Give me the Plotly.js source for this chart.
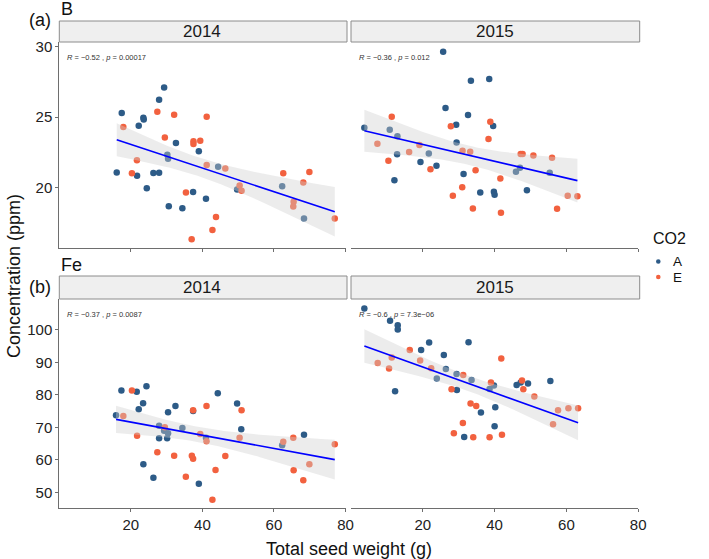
<!DOCTYPE html>
<html>
<head>
<meta charset="utf-8">
<script src="https://cdn.plot.ly/plotly-3.0.1.min.js"></script>
<style>html,body{margin:0;padding:0;background:#fff;}</style>
</head>
<body>
<div id="chart" style="width:709px;height:559px;"></div>
<script>
// ---------- DATA ----------
// Panel (a) B, 2014
const b2014_A_x = [16.05,17.45,21.74,22.2,23.5,23.6,24.45,26.3,27.9,27.9,29.3,30.2,30.4,30.6,32.6,34.4,37.4,39.0,41.0,44.4,49.7,62.3,68.4];
const b2014_A_y = [21.07,25.28,20.83,24.38,24.95,24.83,19.95,21.02,21.04,26.23,27.09,22.32,22.04,18.67,23.15,18.53,19.67,22.58,19.19,21.47,19.86,20.09,17.80];
const b2014_E_x = [17.9,20.3,21.7,27.4,29.5,32.1,35.4,37.0,37.5,37.5,39.4,41.2,41.2,42.8,43.8,46.4,50.4,50.95,62.6,65.5,65.4,68.2,69.9,77.0];
const b2014_E_y = [24.29,21.0,21.94,25.38,23.55,25.17,19.64,16.33,23.29,23.08,23.32,25.02,21.59,16.97,17.91,21.35,20.14,19.76,21.0,18.98,18.65,20.36,21.09,17.80];
// Panel (a) B, 2015
const b2015_A_x = [3.72,10.79,12.09,12.84,12.93,19.35,21.67,23.81,25.67,26.33,29.3,29.4,31.35,32.6,33.4,36.0,38.5,39.6,39.8,40.0,45.95,47.07,49.0,55.35];
const b2015_A_y = [24.24,24.10,20.52,22.35,23.63,21.80,22.42,21.54,29.64,25.64,24.45,23.2,20.95,25.14,27.58,19.64,27.70,24.36,19.69,19.48,21.11,21.40,19.81,21.04];
const b2015_E_x = [7.35,10.42,11.35,16.19,19.07,22.14,27.81,28.37,30.98,31.07,33.2,33.95,34.7,38.3,38.8,41.6,41.77,47.26,47.8,50.8,56.0,57.4,60.37,63.07];
const b2015_E_y = [23.10,21.90,25.02,22.51,23.01,21.30,24.34,19.41,20.02,22.61,22.54,18.51,21.23,23.44,24.67,20.64,18.20,22.37,22.37,22.27,22.11,18.48,19.41,19.38];
// Panel (b) Fe, 2014
const fe2014_A_x = [15.86,17.36,21.65,22.2,23.42,23.5,24.36,26.3,27.9,27.9,29.3,30.14,30.4,30.4,32.47,34.4,37.4,39.0,41.0,44.3,49.7,50.86,62.3,68.4];
const fe2014_A_y = [73.72,81.31,81.0,75.56,77.41,58.62,82.65,54.52,70.53,66.63,69.0,66.63,68.17,74.64,76.59,69.8,75.05,52.67,66.84,80.49,77.31,69.4,64.48,67.76];
const fe2014_E_x = [17.9,20.3,21.74,27.4,29.5,32.1,35.37,37.05,37.4,37.4,39.4,41.15,41.15,42.8,43.67,46.4,50.4,50.95,62.6,65.4,65.5,68.2,69.9,77.0];
const fe2014_E_y = [73.51,81.31,67.45,62.32,70.02,61.29,54.83,61.29,60.37,75.26,67.97,76.59,65.71,47.74,56.88,61.19,66.84,75.26,65.61,66.84,56.78,53.7,58.62,64.78];
// Panel (b) Fe, 2015
const fe2015_A_x = [3.72,10.88,13.02,13.02,12.28,19.53,21.77,23.9,25.86,26.42,29.4,29.49,31.53,32.74,33.58,36.19,38.6,39.81,40.19,40.0,46.14,47.26,49.3,55.53];
const fe2015_A_y = [106.57,102.77,101.44,100.1,81.11,93.84,96.1,85.01,92.3,87.99,86.45,81.52,67.04,96.2,84.6,74.54,81.83,82.85,76.18,70.33,83.06,83.78,83.47,84.29];
const fe2015_E_x = [7.44,10.6,11.35,16.37,19.26,22.33,28.0,28.65,31.26,31.16,33.3,34.05,34.88,38.6,38.98,41.86,42.05,47.63,48.0,51.07,56.28,57.67,60.56,63.26];
const fe2015_E_y = [89.84,88.09,91.48,93.84,90.55,88.19,81.72,68.17,86.14,71.36,77.31,66.94,76.59,66.94,83.78,91.17,67.76,84.39,81.72,79.47,70.94,75.26,75.87,75.87];

const years = ["2014", "2015"];
const elements = ["B", "Fe"];
const rowTags = ["(a)", "(b)"];
const corrText = ["R = −0.52 , p = 0.00017", "R = −0.36 , p = 0.012", "R = −0.37 , p = 0.0087", "R = −0.6 , p = 7.3e−06"];
const groups = ["A", "E"];
const legendTitle = "CO2";
const xTicks = [20, 40, 60, 80];
const yTicksB = [20, 25, 30];
const yTicksFe = [50, 60, 70, 80, 90, 100];

// ---------- styles ----------
const FONT = "Liberation Sans, Arial, Helvetica, sans-serif";
const colA = "#2d5b87", colE = "#f2613f";
const groupColors = [colA, colE];
const W = 709, H = 559;
const px = v => v / W, py = v => 1 - v / H;

// lm + 95% CI (as ggplot geom_smooth(method = "lm"))
function tQuant(df) {
  const z = 1.959964;
  return z + (z*z*z + z) / (4*df) + (5*z**5 + 16*z**3 + 3*z) / (96*df*df);
}
function fitLM(x, y) {
  const n = x.length;
  const mx = x.reduce((a,b)=>a+b,0)/n, my = y.reduce((a,b)=>a+b,0)/n;
  let sxx = 0, sxy = 0;
  for (let i=0;i<n;i++){ sxx += (x[i]-mx)**2; sxy += (x[i]-mx)*(y[i]-my); }
  const b = sxy/sxx, a = my - b*mx;
  let sse = 0;
  for (let i=0;i<n;i++){ sse += (y[i]-a-b*x[i])**2; }
  const s = Math.sqrt(sse/(n-2)), t = tQuant(n-2);
  const xmin = Math.min(...x), xmax = Math.max(...x);
  const xs = [], yh = [], lo = [], hi = [];
  const N = 80;
  for (let k=0;k<N;k++){
    const xv = xmin + (xmax-xmin)*k/(N-1);
    const f = a + b*xv;
    const se = s*Math.sqrt(1/n + (xv-mx)**2/sxx);
    xs.push(xv); yh.push(f); lo.push(f - t*se); hi.push(f + t*se);
  }
  return {xs, yh, lo, hi};
}

const panels = [
  {ax:"", Ax:b2014_A_x, Ay:b2014_A_y, Ex:b2014_E_x, Ey:b2014_E_y},
  {ax:"2", Ax:b2015_A_x, Ay:b2015_A_y, Ex:b2015_E_x, Ey:b2015_E_y},
  {ax:"3", Ax:fe2014_A_x, Ay:fe2014_A_y, Ex:fe2014_E_x, Ey:fe2014_E_y},
  {ax:"4", Ax:fe2015_A_x, Ay:fe2015_A_y, Ex:fe2015_E_x, Ey:fe2015_E_y}
];

const traces = [];
panels.forEach((p, i) => {
  const xa = "x" + p.ax, ya = "y" + p.ax;
  traces.push({type:"scatter", mode:"markers", x:p.Ax, y:p.Ay, xaxis:xa, yaxis:ya,
    name:groups[0], legendgroup:"A", showlegend:false,
    marker:{color:colA, size:6.5}, cliponaxis:false});
  traces.push({type:"scatter", mode:"markers", x:p.Ex, y:p.Ey, xaxis:xa, yaxis:ya,
    name:groups[1], legendgroup:"E", showlegend:false,
    marker:{color:colE, size:6.5}, cliponaxis:false});
  const f = fitLM(p.Ax.concat(p.Ex), p.Ay.concat(p.Ey));
  traces.push({type:"scatter", mode:"lines", x:f.xs.concat(f.xs.slice().reverse()),
    y:f.hi.concat(f.lo.slice().reverse()), xaxis:xa, yaxis:ya, fill:"toself",
    fillcolor:"rgba(208,208,208,0.4)", line:{width:0}, showlegend:false, hoverinfo:"skip"});
  traces.push({type:"scatter", mode:"lines", x:f.xs, y:f.yh, xaxis:xa, yaxis:ya,
    line:{color:"#0000ff", width:1.6}, showlegend:false});
});

// geometry (pixels)
const colX = [[59.3, 345.5], [351, 638.2]];
const rowY = [[42, 248], [299, 508.3]];
const stripY = [[21, 42], [276, 299]];
const yRanges = [[15.7, 30.33], [45.1, 109.5]];

const axisCommon = {showgrid:false, zeroline:false, showline:true, linecolor:"#6e6e6e", linewidth:1,
  ticks:"outside", ticklen:3, tickcolor:"#6e6e6e", tickwidth:1,
  tickfont:{family:FONT, size:15, color:"#222"}, fixedrange:true};

const layout = {
  width:W, height:H, autosize:false, margin:{l:0,r:0,t:0,b:0},
  paper_bgcolor:"#fff", plot_bgcolor:"#fff", font:{family:FONT},
  showlegend:false,
  shapes:[], annotations:[]
};

for (let r=0;r<2;r++){
  for (let c=0;c<2;c++){
    const k = r*2 + c;
    const suf = k===0 ? "" : String(k+1);
    layout["xaxis"+suf] = Object.assign({}, axisCommon, {
      domain:[px(colX[c][0]), px(colX[c][1])], range:[0,80], tickvals:xTicks,
      showticklabels:r===1, anchor:"y"+suf});
    layout["yaxis"+suf] = Object.assign({}, axisCommon, {
      domain:[py(rowY[r][1]), py(rowY[r][0])], range:yRanges[r],
      tickvals: r===0 ? yTicksB : yTicksFe,
      showline:c===0, ticks:c===0?"outside":"", showticklabels:c===0, anchor:"x"+suf});
    // strip
    layout.shapes.push({type:"rect", xref:"paper", yref:"paper",
      x0:px(colX[c][0]), x1:px(colX[c][1]+1.5), y0:py(stripY[r][1]), y1:py(stripY[r][0]),
      fillcolor:"#efefef", line:{color:"#8c8c8c", width:1}});
    layout.annotations.push({xref:"paper", yref:"paper", x:px((colX[c][0]+colX[c][1])/2),
      y:py((stripY[r][0]+stripY[r][1])/2), text:years[c], showarrow:false,
      font:{family:FONT, size:17, color:"#1a1a1a"}, xanchor:"center", yanchor:"middle"});
    // correlation label
    const ct = corrText[k].replace(/^R/, "<i>R</i>").replace(/p =/, "<i>p</i> =");
    layout.annotations.push({xref:"paper", yref:"paper", x:px(colX[c][0]+6), y:py(rowY[r][0]+15.5),
      text:ct, showarrow:false, xanchor:"left", yanchor:"middle",
      font:{family:FONT, size:7.5, color:"#333"}});
  }
  // row labels
  layout.annotations.push({xref:"paper", yref:"paper", x:px(53), y:py(r===0?20:287),
    text:rowTags[r], showarrow:false, xanchor:"right", yanchor:"middle",
    font:{family:FONT, size:18, color:"#111"}});
  layout.annotations.push({xref:"paper", yref:"paper", x:px(59), y:py(r===0?9:265),
    text:elements[r], showarrow:false, xanchor:"left", yanchor:"middle",
    font:{family:FONT, size:18, color:"#111"}});
}
// axis titles
layout.annotations.push({xref:"paper", yref:"paper", x:px(349), y:py(549),
  text:"Total seed weight (g)", showarrow:false, xanchor:"center", yanchor:"middle",
  font:{family:FONT, size:18, color:"#111"}});
layout.annotations.push({xref:"paper", yref:"paper", x:px(14), y:py(276),
  text:"Concentration (ppm)", showarrow:false, textangle:-90, xanchor:"center", yanchor:"middle",
  font:{family:FONT, size:18, color:"#111"}});

// legend (ggplot-style compact key)
layout.annotations.push({xref:"paper", yref:"paper", x:px(651), y:py(238),
  text:legendTitle, showarrow:false, xanchor:"left", yanchor:"middle",
  font:{family:FONT, size:16, color:"#111"}});
groups.forEach((g, i) => {
  const cy = 261.5 + i*15.5;
  layout.shapes.push({type:"circle", xref:"paper", yref:"paper",
    x0:px(656), x1:px(660.6), y0:py(cy+2.3), y1:py(cy-2.3),
    fillcolor:groupColors[i], line:{width:0}});
  layout.annotations.push({xref:"paper", yref:"paper", x:px(672), y:py(cy),
    text:g, showarrow:false, xanchor:"left", yanchor:"middle", borderpad:0,
    font:{family:FONT, size:13.5, color:"#111"}});
});

Plotly.newPlot("chart", traces, layout, {staticPlot:true, displayModeBar:false});
</script>
</body>
</html>
